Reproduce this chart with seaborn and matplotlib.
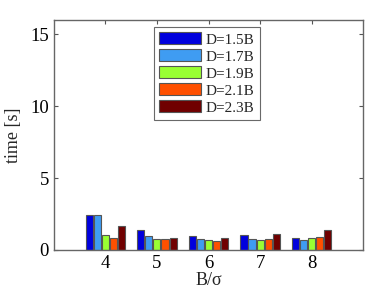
import pandas as pd
import seaborn as sns
import matplotlib.pyplot as plt

ratios = ["4", "5", "6", "7", "8"]
d_labels = ["D=1.5B", "D=1.7B", "D=1.9B", "D=2.1B", "D=2.3B"]
t_15 = [2.40, 1.41, 0.97, 1.02, 0.86]
t_17 = [2.40, 0.95, 0.76, 0.79, 0.72]
t_19 = [1.04, 0.76, 0.69, 0.67, 0.81]
t_21 = [0.83, 0.74, 0.65, 0.76, 0.90]
t_23 = [1.67, 0.81, 0.81, 1.13, 1.37]
colors = ["#0000dd", "#3f9cf2", "#99ff33", "#ff5000", "#700000"]

rows = []
for lab, vals in zip(d_labels, [t_15, t_17, t_19, t_21, t_23]):
    for r, v in zip(ratios, vals):
        rows.append({"ratio": r, "D": lab, "time": v})
df = pd.DataFrame(rows)

sns.set_style("white")
plt.rcParams["font.family"] = ["Liberation Serif", "DejaVu Serif"]

fig = plt.figure(figsize=(3.74, 2.99), dpi=100)
ax = fig.add_axes([0.144, 0.164, 0.827, 0.769])
sns.barplot(data=df, x="ratio", y="time", hue="D", palette=colors,
            saturation=1, width=0.78, gap=0.12, edgecolor="#555555",
            linewidth=0.8, errorbar=None, ax=ax)

ax.set_xlim(-1, 5)
ax.set_ylim(0, 16)
ax.set_yticks([0, 5, 10, 15])
ax.set_xlabel("B/σ", fontsize=13, labelpad=0)
ax.set_ylabel("time [s]", fontsize=13, labelpad=6)
ax.tick_params(direction="in", length=3, labelsize=13.5, colors="#555555",
               labelcolor="black", top=True, right=True, bottom=True, left=True)
for s in ax.spines.values():
    s.set_color("#666666")
    s.set_linewidth(1.0)

leg = ax.legend(loc="upper center", bbox_to_anchor=(0.495, 0.97), fontsize=11,
                frameon=True, fancybox=False, edgecolor="#444444",
                handlelength=2.75, handleheight=0.85, labelspacing=0.17,
                handletextpad=0.3, borderpad=0.35, borderaxespad=0)
leg.get_frame().set_linewidth(0.8)

fig.savefig("out.png", dpi=100)
